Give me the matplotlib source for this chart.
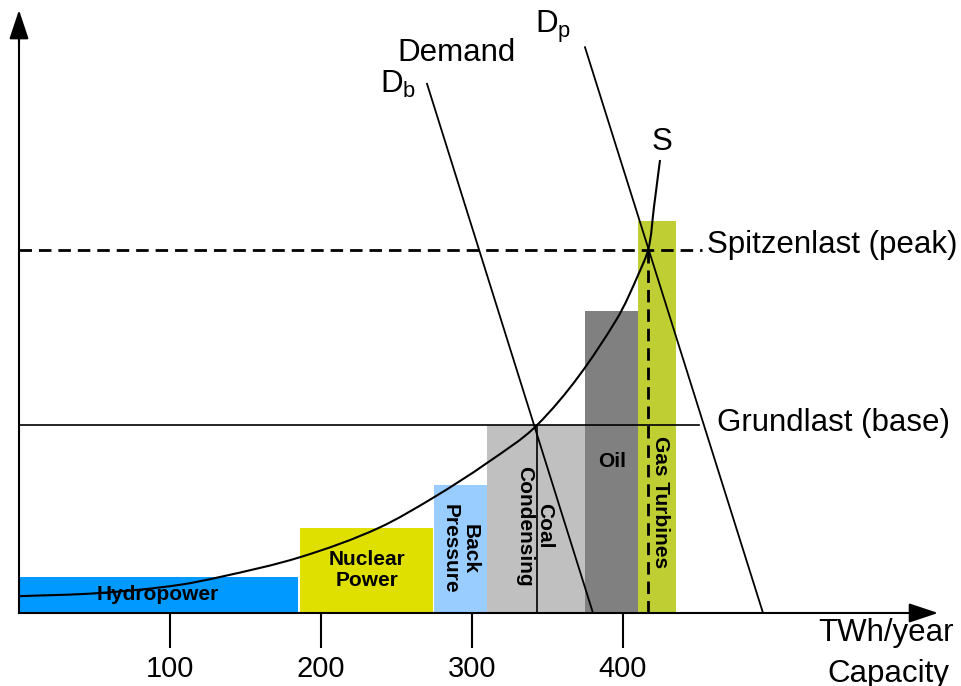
import numpy as np
import matplotlib
matplotlib.use('Agg')
import matplotlib.pyplot as plt
from matplotlib.path import Path
from matplotlib.patches import PathPatch

plt.rcParams['font.family'] = ['Liberation Sans', 'DejaVu Sans']

# power plant blocks: capacity range (TWh/year) and cost level
plants = ['Hydropower', 'Nuclear\nPower', 'Back\nPressure', 'Coal\nCondensing', 'Oil', 'Gas Turbines']
cap_start = [0, 186, 275, 310, 375, 410]
cap_end = [185, 274, 310, 375, 410, 435]
cost = [6.0, 14.2, 21.3, 31.3, 50.3, 65.3]
colors = ['#0099ff', '#e0e000', '#99ccff', '#c0c0c0', '#808080', '#bfcf33']

# label placement for each block
label_x = [92, 230.5, 292, 341.5, 392.7, 424.5]
label_y = [3.0, 7.2, 10.7, 14.5, 25.2, 18.5]
label_rot = [0, 0, -90, -90, 0, -90]

# supply curve S
supply_x = [0, 51.7, 106.6, 133.1, 186.1, 238.4, 274.2, 309.9, 343.0,
            395.4, 410.6, 416.6, 420.5, 423.2, 424.5]
supply_y = [2.8, 3.3, 4.7, 6.0, 9.3, 14.2, 19.2, 25.0, 31.3,
            48.8, 56.7, 60.5, 67.7, 73.0, 75.5]

# demand lines
demand_base_x = [270.2, 380.1]
demand_base_y = [88.2, 0]
demand_peak_x = [374.8, 492.7]
demand_peak_y = [94.3, 0]

base_load = 31.3
peak_load = 60.5
base_cross = 343.0
peak_cross = 416.6
load_line_end = 450

xticks = [100, 200, 300, 400]


def smooth_path(xs, ys, sx=1.51, sy=6.0):
    # bezier through the points, tangents taken in screen-like proportions
    pts = np.column_stack([np.asarray(xs) * sx, np.asarray(ys) * sy])
    n = len(pts)
    tangents = []
    for i in range(n):
        if i == 0:
            d = pts[1] - pts[0]
        elif i == n - 1:
            d = pts[-1] - pts[-2]
        else:
            a = pts[i] - pts[i - 1]
            b = pts[i + 1] - pts[i]
            d = a / np.linalg.norm(a) + b / np.linalg.norm(b)
        tangents.append(d / np.linalg.norm(d))
    verts = [pts[0]]
    codes = [Path.MOVETO]
    for i in range(n - 1):
        h = np.linalg.norm(pts[i + 1] - pts[i]) / 3
        verts += [pts[i] + tangents[i] * h, pts[i + 1] - tangents[i + 1] * h, pts[i + 1]]
        codes += [Path.CURVE4] * 3
    verts = np.array(verts) / [sx, sy]
    return Path(verts, codes)


fig = plt.figure(figsize=(9.61, 6.86), dpi=100)
ax = fig.add_axes([0, 0, 1, 1])
ax.set_xlim(-12.58, 623.8)
ax.set_ylim(-12.17, 102.17)

# blocks
widths = [e - s for s, e in zip(cap_start, cap_end)]
ax.bar(cap_start, cost, width=widths, align='edge', color=colors, zorder=1)
for name, lx, ly, rot in zip(plants, label_x, label_y, label_rot):
    ax.text(lx, ly, name, rotation=rot, ha='center', va='center', fontsize=15,
            fontweight='bold', multialignment='center', linespacing=1.1, zorder=5)

# load levels
ax.plot([0, load_line_end], [base_load, base_load], color='black', lw=1.2, zorder=3)
ax.plot([0, load_line_end + 2], [peak_load, peak_load], color='black', lw=2,
        dashes=(4.5, 2.5), zorder=3)
ax.plot([base_cross, base_cross], [0, base_load], color='black', lw=1.2, zorder=3)
ax.plot([peak_cross, peak_cross], [0, peak_load], color='black', lw=2,
        dashes=(4.5, 2.5), zorder=3)

# demand and supply
ax.plot(demand_base_x, demand_base_y, color='black', lw=1.3, zorder=3)
ax.plot(demand_peak_x, demand_peak_y, color='black', lw=1.3, zorder=3)
ax.add_patch(PathPatch(smooth_path(supply_x, supply_y), fill=False,
                       edgecolor='black', lw=1.5, zorder=4))

# axes with arrows
for side in ['top', 'right']:
    ax.spines[side].set_visible(False)
ax.spines['left'].set_position(('data', 0))
ax.spines['bottom'].set_position(('data', 0))
ax.spines['left'].set_bounds(0, 98)
ax.spines['bottom'].set_bounds(0, 600)
ax.spines['left'].set_linewidth(1.5)
ax.spines['bottom'].set_linewidth(1.5)
ax.spines['left'].set_zorder(6)
ax.spines['bottom'].set_zorder(6)
ax.set_yticks([])
ax.set_xticks(xticks)
ax.set_xticklabels([str(t) for t in xticks])
ax.tick_params(axis='x', direction='out', length=25, width=1.5, pad=5, labelsize=21)

arrow = dict(arrowstyle='-|>,head_length=1.8,head_width=0.6', mutation_scale=10,
             color='black', lw=1.5, shrinkA=0, shrinkB=0)
ax.annotate('', xy=(0, 100.5), xytext=(0, 95), arrowprops=arrow)
ax.annotate('', xy=(608.6, 0), xytext=(595, 0), arrowprops=arrow)

# annotations
fs = 22.5
ax.text(250.3, 93.3, 'Demand', fontsize=fs, ha='left', va='center')
ax.text(239, 86.7, r'D$_\mathregular{b}$', fontsize=fs, ha='left', va='baseline')
ax.text(341.7, 96.7, r'D$_\mathregular{p}$', fontsize=fs, ha='left', va='baseline')
ax.text(419.2, 77.2, 'S', fontsize=fs, ha='left', va='baseline')
ax.text(455.5, 61.3, 'Spitzenlast (peak)', fontsize=fs, ha='left', va='center')
ax.text(462.3, 31.7, 'Grundlast (base)', fontsize=fs, ha='left', va='center')
ax.text(529.1, -3.3, 'TWh/year', fontsize=fs, ha='left', va='center')
ax.text(535.1, -10.2, 'Capacity', fontsize=fs, ha='left', va='center')

fig.savefig('out.png', dpi=100)
